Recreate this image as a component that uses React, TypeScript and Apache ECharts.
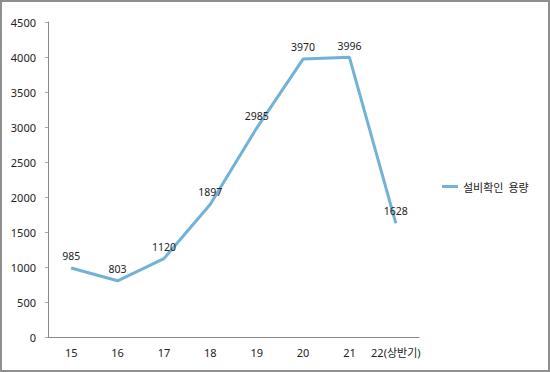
import React, { useEffect, useRef } from "react";
import * as echarts from "echarts";

const categories = ["15", "16", "17", "18", "19", "20", "21", "22(상반기)"];
const capacity = [985, 803, 1120, 1897, 2985, 3970, 3996, 1628];
const seriesName = "설비확인  용량";

export default function App() {
  const ref = useRef<HTMLDivElement>(null);
  useEffect(() => {
    if (!ref.current) return;
    const chart = echarts.init(ref.current, null, { renderer: "svg" });
    const font = "'Noto Sans', 'Noto Sans CJK KR', sans-serif";
    chart.setOption({
      animation: false,
      backgroundColor: "#fff",
      textStyle: { fontFamily: font },
      grid: { left: 48, right: 131, top: 22, bottom: 35 },
      legend: {
        left: 437,
        top: 176,
        icon: "rect",
        itemWidth: 16,
        itemHeight: 3,
        itemGap: 4,
        data: [seriesName],
        textStyle: { fontFamily: "'Noto Sans CJK KR', sans-serif", fontSize: 11, color: "#222" },
      },
      xAxis: {
        type: "category",
        data: categories,
        boundaryGap: true,
        axisLine: { lineStyle: { color: "#8a8a8a", width: 1 } },
        axisTick: { show: false },
        axisLabel: { interval: 0, color: "#222", fontSize: 11, margin: 10, fontFamily: font },
      },
      yAxis: {
        type: "value",
        min: 0,
        max: 4500,
        interval: 500,
        splitLine: { show: false },
        axisLine: { show: true, lineStyle: { color: "#8a8a8a", width: 1 } },
        axisTick: { show: true, length: 3, lineStyle: { color: "#aaa" } },
        axisLabel: { color: "#222", fontSize: 11, margin: 12, formatter: (v: number) => String(v) },
      },
      series: [
        {
          name: seriesName,
          type: "line",
          data: capacity,
          symbol: "circle",
          symbolSize: 1,
          showSymbol: true,
          lineStyle: { color: "#72b2d6", width: 3 },
          itemStyle: { color: "#72b2d6" },
          label: { show: true, position: "top", distance: 6, color: "#222", fontSize: 10.5 },
        },
      ],
      graphic: [
        {
          type: "rect",
          shape: { x: 1, y: 1, width: 548, height: 370 },
          style: { fill: "none", stroke: "#8f8f8f", lineWidth: 2 },
          silent: true,
        },
      ],
    });
    return () => chart.dispose();
  }, []);
  return <div ref={ref} style={{ position: "fixed", left: 0, top: 0, width: 550, height: 372 }} />;
}
